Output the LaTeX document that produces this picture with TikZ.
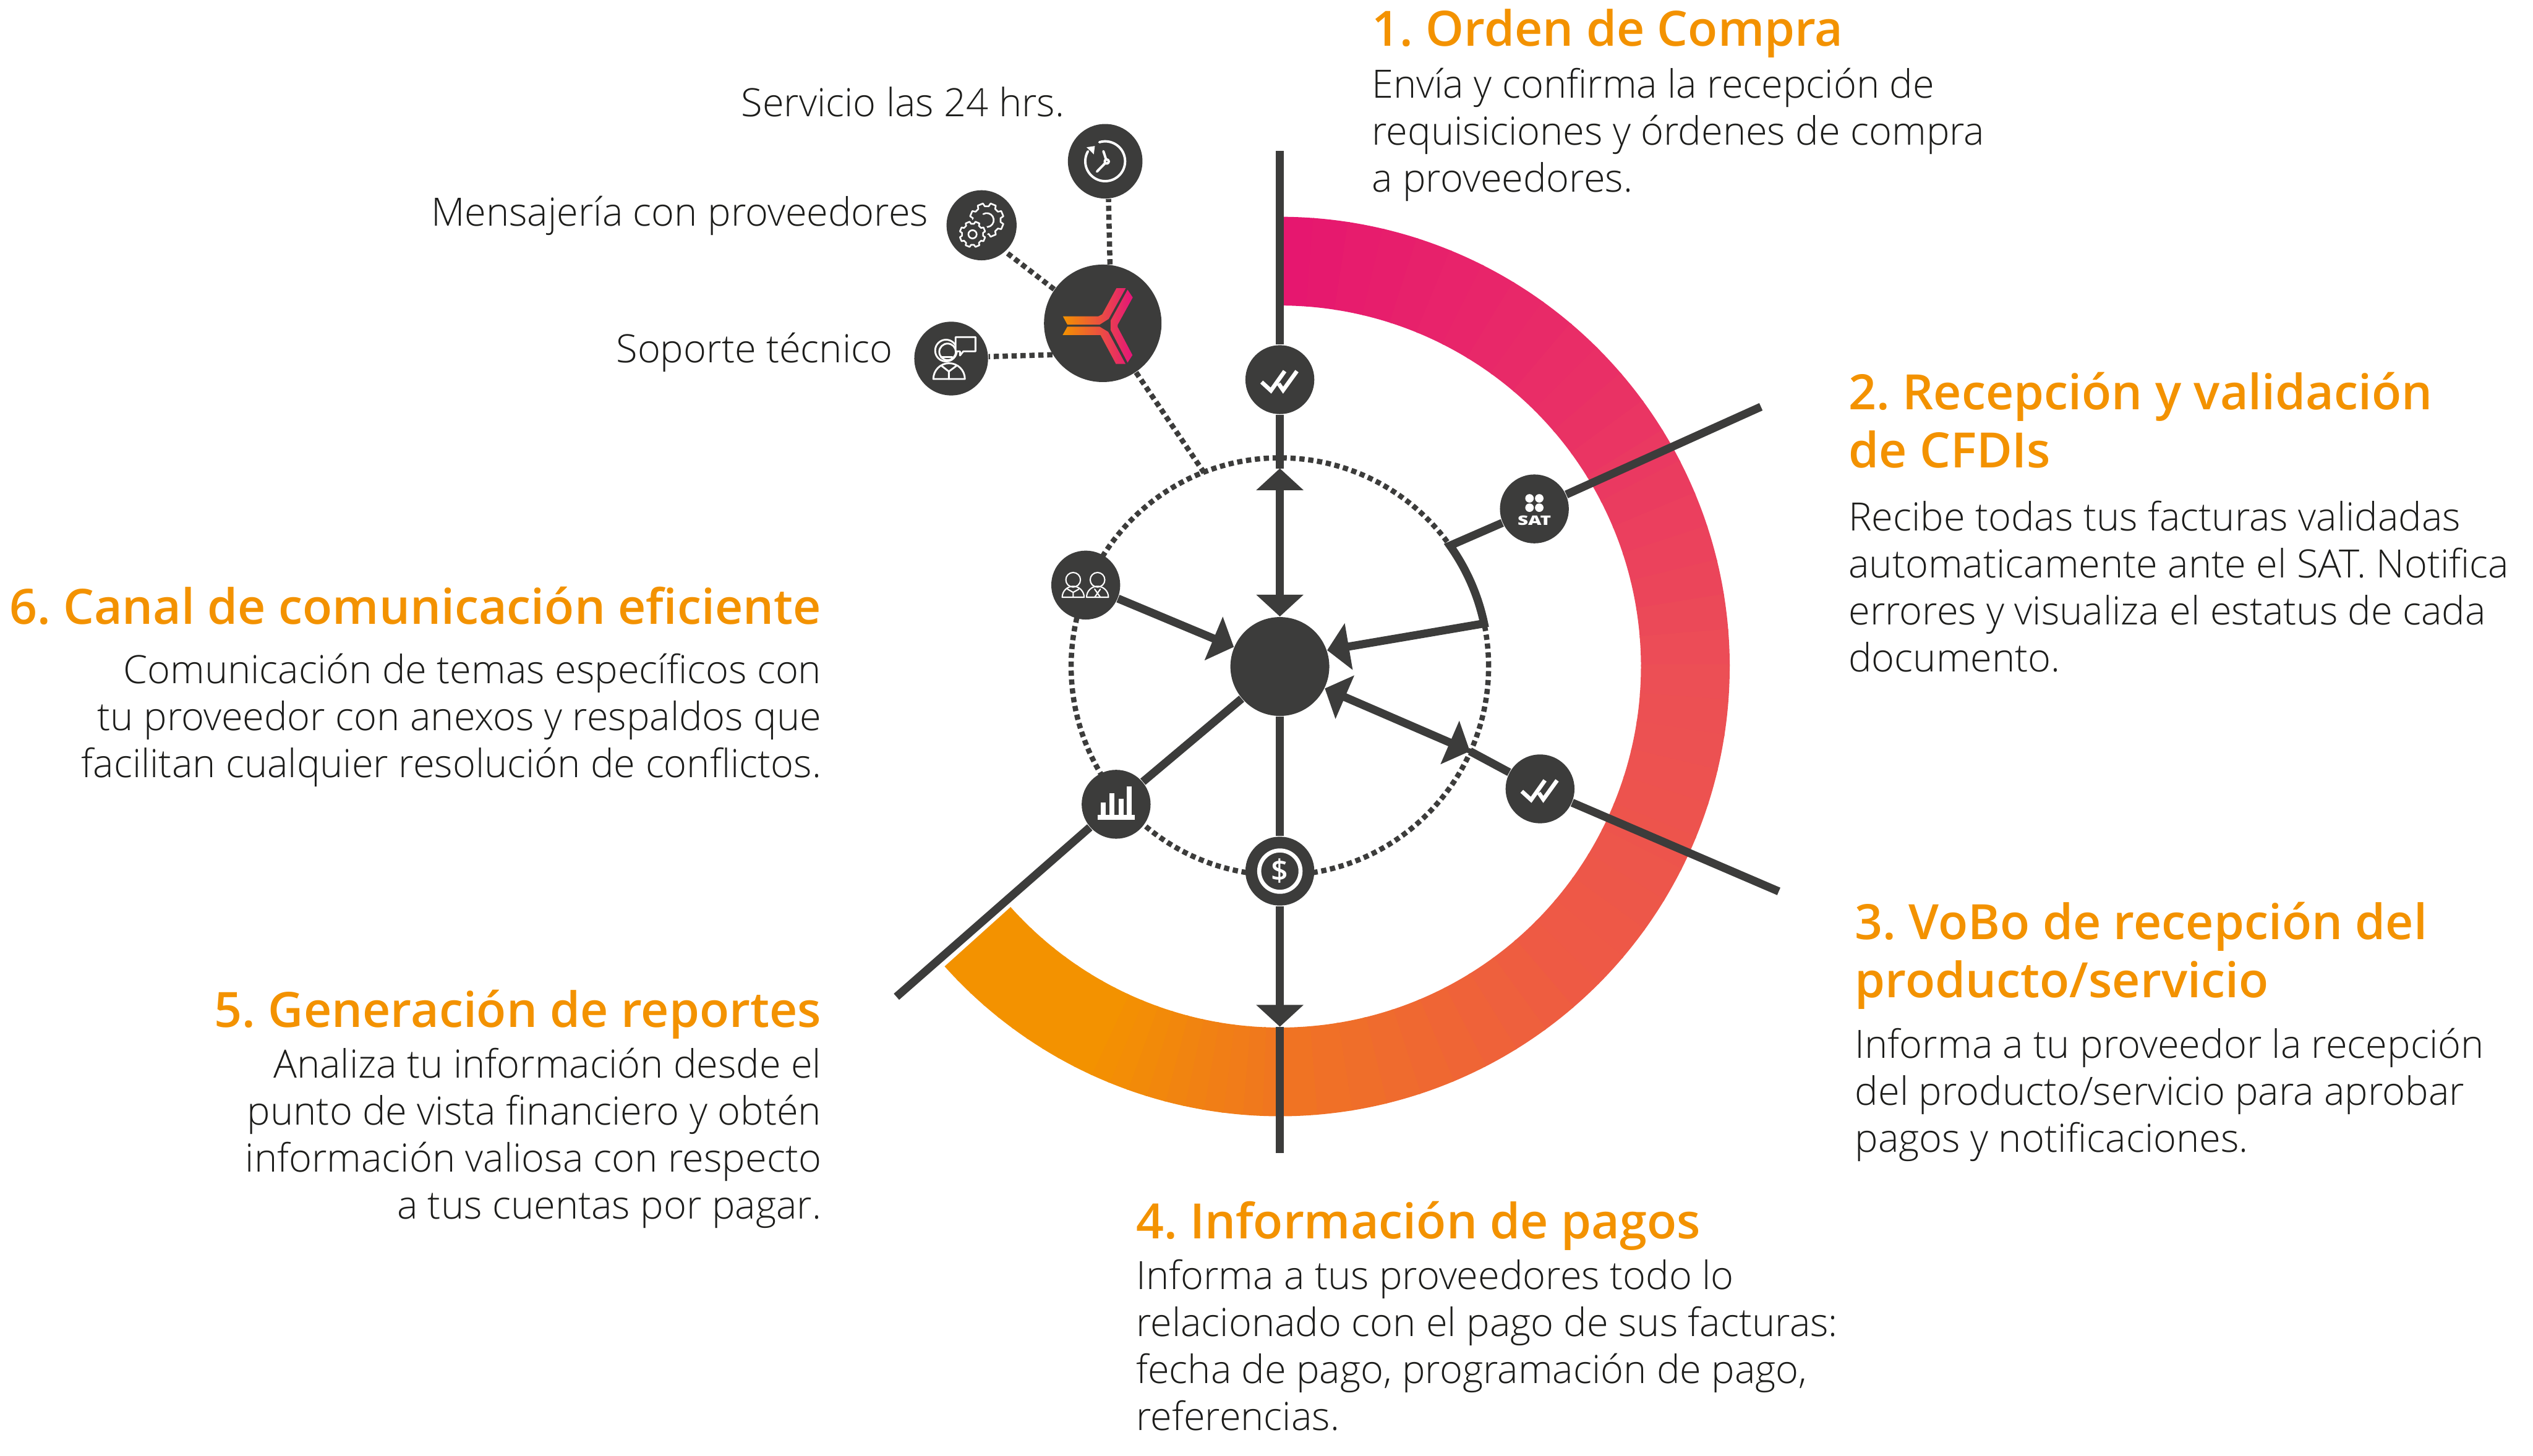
\documentclass[tikz,border=0pt]{standalone}
\usepackage{fontspec}
\setmainfont{Open Sans Light}
\newfontfamily\headfont{Open Sans Semibold}
\usetikzlibrary{arrows.meta,positioning}
\definecolor{dark}{HTML}{3C3C3B}
\definecolor{textdark}{HTML}{1D1D1B}
\definecolor{headorange}{HTML}{F39200}
\definecolor{ringpink}{HTML}{E6176F}
\definecolor{ringrose}{HTML}{E92F66}
\definecolor{ringred}{HTML}{EC4F55}
\definecolor{ringcoral}{HTML}{EE5A44}
\definecolor{ringburnt}{HTML}{F0761F}
\definecolor{ringorange}{HTML}{F39200}
\definecolor{logopink}{HTML}{E5147A}
\tikzset{
  badge/.style={circle,fill=dark,inner sep=0pt,minimum size=.85cm},
  spoke/.style={draw=dark,line width=.1cm},
  tipped/.style={spoke,-{Triangle[length=.27cm,width=.57cm]}},
  bothtipped/.style={spoke,{Triangle[length=.27cm,width=.57cm]}-{Triangle[length=.27cm,width=.57cm]}},
  dotline/.style={draw=dark,line width=.065cm,dash pattern=on .065cm off .045cm},
  iconline/.style={draw=white,line width=.03cm,line join=round,line cap=round},
  iconfill/.style={fill=white,draw=none},
  headtext/.style={inner sep=0pt,text=headorange,font=\headfont\fontsize{17.1}{20.4}\selectfont},
  bodytext/.style={inner sep=0pt,text=textdark,font=\fontsize{13.7}{16.5}\selectfont},
}
\newcommand{\gearshape}[2]{(8:#1) \foreach \a in {0,45,...,315}{ -- ({\a+8}:#1) -- ({\a+13}:#2) -- ({\a+32}:#2) -- ({\a+37}:#1)} -- cycle}
\newcommand{\doublecheck}{\draw[white,line width=.05cm] (-45,-6)--(-22,-27)--(12,21) (-3,-10)--(8,-26)--(42,21);}
\frenchspacing
\begin{document}
\begin{tikzpicture}
\useasboundingbox (-15.79,8.225) rectangle (15.46,-9.735);
\foreach \from/\to/\ca/\cb in {90/45/ringpink/ringrose,45/0/ringrose/ringred,0/-45/ringred/ringcoral,-45/-90/ringcoral/ringburnt,-90/-115/ringburnt/ringorange,-115/-138.2/ringorange/ringorange}
  \foreach \t in {0,10,...,90}{
    \pgfmathsetmacro{\aa}{\from+\t/100*(\to-\from)+.3}
    \pgfmathsetmacro{\ab}{\from+(\t+10)/100*(\to-\from)}
    \draw[\cb!\t!\ca,line width=1.095cm] (\aa:5.0025) arc[start angle=\aa,end angle=\ab,radius=5.0025];
  }
\draw[dotline] (0,0) circle (2.575);
\node[badge,minimum size=1.22cm] (hub) at (0,0) {};
\node[badge,minimum size=1.45cm] (logo) at (-2.185,4.235) {};
\node[badge,minimum size=.92cm] (clock) at (-2.155,6.235) {};
\node[badge,minimum size=.865cm] (gears) at (-3.68,5.445) {};
\node[badge,minimum size=.91cm] (support) at (-4.055,3.8) {};
\node[badge] (checkone) at (0,3.54) {};
\node[badge] (sat) at (3.14,1.945) {};
\node[badge] (checktwo) at (3.21,-1.51) {};
\node[badge,text=white,font=\headfont\fontsize{10.5}{10.5}\selectfont] (pay) at (0,-2.525) {\$};
\node[badge] (chart) at (-2.02,-1.7) {};
\node[badge] (team) at (-2.395,1.005) {};
\coordinate (topend) at (0,6.36);
\coordinate (toptip) at (0,2.445);
\coordinate (downtip) at (0,-4.445);
\coordinate (downend) at (0,-6.005);
\coordinate (satend) at (5.935,3.205);
\coordinate (satbend) at (35.4:2.575);
\coordinate (checkend) at (6.155,-2.775);
\coordinate (checktip) at (2.345,-1.045);
\coordinate (chartend) at (-4.73,-4.075);
\coordinate (logofoot) at (-.93,2.385);
\draw[spoke] (checkone)--(topend);
\draw[spoke] (checkone)--(toptip);
\draw[bothtipped] (hub)--(toptip);
\draw[spoke] (sat)--(satend);
\draw[tipped] (sat)--(satbend) arc[start angle=35.4,end angle=11.9,radius=2.575]--(hub.19);
\draw[spoke] (checktwo)--(checkend);
\draw[spoke] (checktwo)--(checktip);
\draw[bothtipped] (hub.-26)--(checktip);
\draw[spoke] (hub)--(pay);
\draw[tipped] (pay)--(downtip);
\draw[spoke] (downtip)--(downend);
\draw[spoke] (hub)--(chart);
\draw[spoke] (chart)--(chartend);
\draw[tipped] (team)--(hub.157);
\draw[dotline] (logo.83)--(clock.-85);
\draw[dotline] (logo.145)--(gears.-48);
\draw[dotline] (logo.212)--(support.3);
\draw[dotline] (logo)--(logofoot);
\draw[white,line width=.05cm] (pay) circle (.255);
\begin{scope}[shift={(logo)},scale=.00319]
\shade[left color=ringorange,middle color=ringred,right color=logopink]
  (-154,27)--(-17,27)--(-2,35)--(53,136)--(89,136)--(23,17)--(-12,-5)--(-137,-5)--cycle
  (-137,-13)--(-12,-13)--(21,-33)--(88,-157)--(51,-157)--(-9,-45)--(-155,-45)--cycle
  (96,130)--(116,100)--(58,-5)--(58,-15)--(115,-123)--(96,-152)--(30,-25)--(30,10)--cycle;
\end{scope}
\begin{scope}[shift={(clock)},scale=.00319]
\draw[iconline] (107:77) arc[start angle=107,end angle=-210,radius=77];
\fill[iconfill] (-72,54)--(-40,59)--(-44,27)--cycle;
\draw[iconline] (-7,39)--(6,-1)--(-32,-40);
\filldraw[fill=dark,iconline] (6,-1) circle[radius=8];
\end{scope}
\begin{scope}[shift={(gears)},scale=.00319]
\draw[iconline,line width=.02cm,shift={(20,20)}] \gearshape{54}{66};
\draw[iconline,line width=.02cm,shift={(20,20)}] (120:27) arc[start angle=120,end angle=-110,radius=27];
\filldraw[fill=dark,draw=dark,line width=.08cm,shift={(-35,-35)}] \gearshape{41}{50};
\draw[iconline,line width=.02cm,shift={(-35,-35)}] \gearshape{41}{50};
\draw[iconline,line width=.02cm] (-35,-35) circle[radius=16];
\end{scope}
\begin{scope}[shift={(support)},scale=.00319]
\draw[iconline,line width=.022cm] (-20,31) circle[radius=42];
\draw[iconline,line width=.022cm] (-14,26) circle[radius=32];
\filldraw[fill=dark,iconline,line width=.022cm] (17,83)--(94,83)--(94,28)--(47,28)--(34,12)--(34,28)--(17,28)--cycle;
\draw[iconline,line width=.022cm] (-40,6)--(4,6);
\draw[iconline,line width=.022cm] (-69,-79) arc[start angle=180,end angle=0,radius=61]--cycle;
\draw[iconline,line width=.022cm] (-36,-29)--(-9,-50)--(19,-29) (-9,-50)--(-9,-79);
\end{scope}
\begin{scope}[shift={(checkone)},scale=.005]
\doublecheck
\end{scope}
\begin{scope}[shift={(checktwo)},scale=.005]
\doublecheck
\end{scope}
\begin{scope}[shift={(sat)},scale=.005]
\foreach \x/\y in {-12/26,12/26,-12/3,12/3}
  \fill[iconfill] (\x,\y) circle[radius=10.5];
\node[inner sep=0pt,text=white,font=\headfont\bfseries\fontsize{4.6}{4.6}\selectfont] (sattext) at (0,-28) {\scalebox{1.4}[1]{SAT}};
\end{scope}
\begin{scope}[shift={(chart)},scale=.00255]
\fill[iconfill] (-90,-75) rectangle (91,-51);
\foreach \x/\h in {-73/10,-32/54,12/28,51/87}
  \fill[iconfill] (\x,-51) rectangle (\x+23,\h);
\end{scope}
\begin{scope}[shift={(team)},scale=.005]
\foreach \x in {-31,29}{
  \draw[iconline,line width=.016cm] (\x,13) circle[radius=18];
  \draw[iconline,line width=.016cm] (\x-27,-30) arc[start angle=180,end angle=0,radius=27]--cycle;
}
\draw[iconline,line width=.016cm] (-45,-10)--(-31,-18)--(-17,-10) (-31,-18)--(-31,-30);
\draw[iconline,line width=.016cm] (22,-10)--(36,-30) (36,-10)--(22,-30);
\end{scope}
\node[headtext,anchor=west] (orderhead) at (1.13,7.81) {1. Orden de Compra};
\node[bodytext,align=left,below=1.1mm of orderhead.south west,anchor=north west] (orderbody) {Envía y confirma la recepción de\\requisiciones y órdenes de compra\\a proveedores.};
\node[headtext,align=left,anchor=north west] (cfdihead) at (7.01,3.64) {2. Recepción y validación\\de CFDIs};
\node[bodytext,align=left,below=3.9mm of cfdihead.south west,anchor=north west] (cfdibody) {Recibe todas tus facturas validadas\\automaticamente ante el SAT. Notifica\\errores y visualiza el estatus de cada\\documento.};
\node[headtext,align=left,anchor=north west] (vobohead) at (7.09,-2.9) {3. VoBo de recepción del\\producto/servicio};
\node[bodytext,align=left,below=2.2mm of vobohead.south west,anchor=north west] (vobobody) {Informa a tu proveedor la recepción\\del producto/servicio para aprobar\\pagos y notificaciones.};
\node[headtext,anchor=west] (payhead) at (-1.78,-6.9) {4. Información de pagos};
\node[bodytext,align=left,below=1mm of payhead.south west,anchor=north west] (paybody) {Informa a tus proveedores todo lo\\relacionado con el pago de sus facturas:\\fecha de pago, programación de pago,\\referencias.};
\node[headtext,anchor=east] (reporthead) at (-5.65,-4.29) {5. Generación de reportes};
\node[bodytext,align=right,below=1mm of reporthead.south east,anchor=north east] (reportbody) {Analiza tu información desde el\\punto de vista financiero y obtén\\información valiosa con respecto\\a tus cuentas por pagar.};
\node[headtext,anchor=east] (chanhead) at (-5.65,.75) {6. Canal de comunicación eficiente};
\node[bodytext,align=right,below=3.4mm of chanhead.south east,anchor=north east] (chanbody) {Comunicación de temas específicos con\\tu proveedor con anexos y respaldos que\\facilitan cualquier resolución de conflictos.};
\node[bodytext,anchor=east] (clocktext) at (-2.65,6.97) {Servicio las 24 hrs.};
\node[bodytext,anchor=east] (gearstext) at (-4.33,5.56) {Mensajería con proveedores};
\node[bodytext,anchor=east] (supporttext) at (-4.77,3.88) {Soporte técnico};
\end{tikzpicture}
\end{document}
